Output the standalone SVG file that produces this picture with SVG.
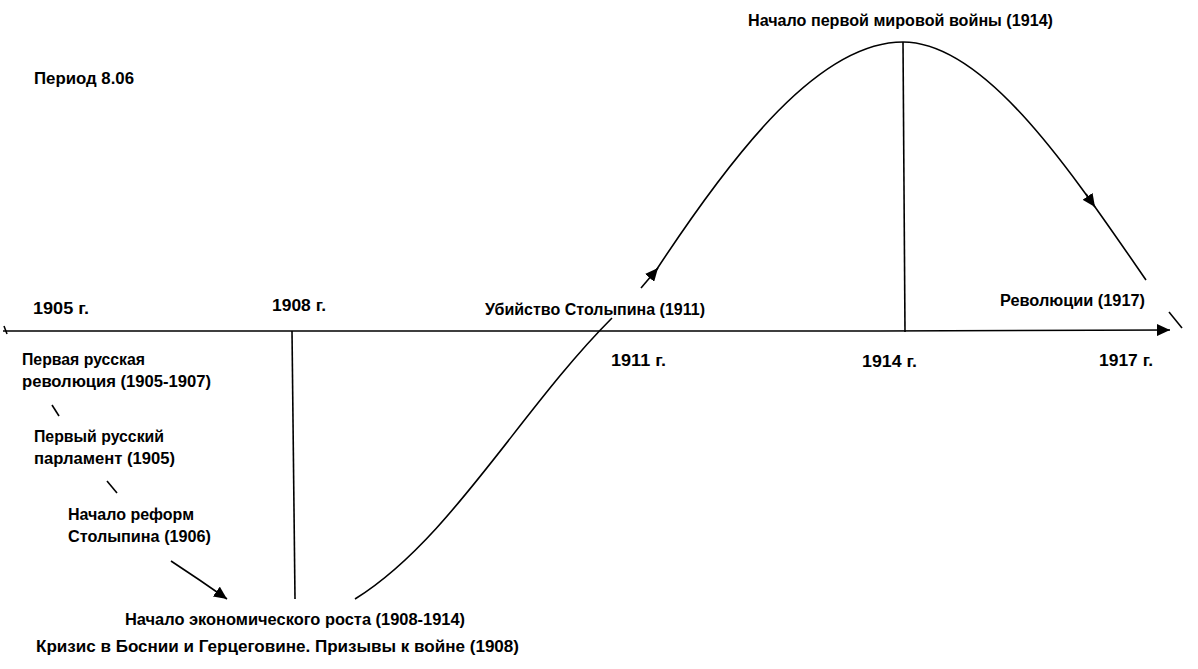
<svg xmlns="http://www.w3.org/2000/svg" width="1198" height="669" viewBox="0 0 1198 669">
<style>
text{font-family:"Liberation Sans",Arial,sans-serif;font-weight:bold;font-size:16px;fill:#000}
.ln{fill:none;stroke:#000;stroke-width:1.6}
</style>
<defs>
<marker id="ah" markerUnits="userSpaceOnUse" markerWidth="14" markerHeight="12" refX="13" refY="6" orient="auto">
<path d="M0,0 L13,6 L0,12 Z" fill="#000"/>
</marker>
</defs>
<rect width="1198" height="669" fill="#fff"/>
<g id="connectors">
<path class="ln" d="M3,331 L880,331 L1170,330" marker-end="url(#ah)"/>
<path class="ln" d="M4,326 L7,334"/>
<path class="ln" d="M292,331 L295,599"/>
<path class="ln" d="M903,42 L905,332"/>
<path class="ln" d="M355,599 C450,540 520,410 612,318"/>
<path class="ln" d="M641,288 L658,268" marker-end="url(#ah)"/>
<path class="ln" d="M655,272 C735,150 820,42 903,42 C985,42 1070,170 1146,280"/>
<path class="ln" d="M1086,194 L1095,207" marker-end="url(#ah)"/>
<path class="ln" d="M1169,312 L1182,328"/>
<path class="ln" d="M52,405 L59,416"/>
<path class="ln" d="M107,481 L117,493"/>
<path class="ln" d="M171,561 Q200,580 227,599" marker-end="url(#ah)"/>
</g>
<g id="title"><text x="34" y="84" textLength="100" lengthAdjust="spacingAndGlyphs">Период 8.06</text></g>
<g id="y1905"><text x="33" y="314" textLength="56" lengthAdjust="spacingAndGlyphs">1905 г.</text></g>
<g id="y1908"><text x="272" y="311" textLength="54" lengthAdjust="spacingAndGlyphs">1908 г.</text></g>
<g id="y1911"><text x="611" y="366" textLength="55" lengthAdjust="spacingAndGlyphs">1911 г.</text></g>
<g id="y1914"><text x="862" y="367" textLength="55" lengthAdjust="spacingAndGlyphs">1914 г.</text></g>
<g id="y1917"><text x="1099" y="366" textLength="54" lengthAdjust="spacingAndGlyphs">1917 г.</text></g>
<g id="stolypin-kill"><text x="485" y="315" textLength="220" lengthAdjust="spacingAndGlyphs">Убийство Столыпина (1911)</text></g>
<g id="revolutions"><text x="1000" y="306" textLength="145" lengthAdjust="spacingAndGlyphs">Революции (1917)</text></g>
<g id="ww1"><text x="748" y="26" textLength="305" lengthAdjust="spacingAndGlyphs">Начало первой мировой войны (1914)</text></g>
<g id="rev1905">
<text x="22" y="365" textLength="123" lengthAdjust="spacingAndGlyphs">Первая русская</text>
<text x="22" y="387" textLength="189" lengthAdjust="spacingAndGlyphs">революция (1905-1907)</text>
</g>
<g id="parliament">
<text x="34" y="442" textLength="130" lengthAdjust="spacingAndGlyphs">Первый русский</text>
<text x="34" y="464" textLength="141" lengthAdjust="spacingAndGlyphs">парламент (1905)</text>
</g>
<g id="reforms">
<text x="68" y="520" textLength="126" lengthAdjust="spacingAndGlyphs">Начало реформ</text>
<text x="68" y="542" textLength="143" lengthAdjust="spacingAndGlyphs">Столыпина (1906)</text>
</g>
<g id="growth"><text x="125" y="625" textLength="340" lengthAdjust="spacingAndGlyphs">Начало экономического роста (1908-1914)</text></g>
<g id="bosnia"><text x="36" y="652" textLength="483" lengthAdjust="spacingAndGlyphs">Кризис в Боснии и Герцеговине. Призывы к войне (1908)</text></g>
</svg>
